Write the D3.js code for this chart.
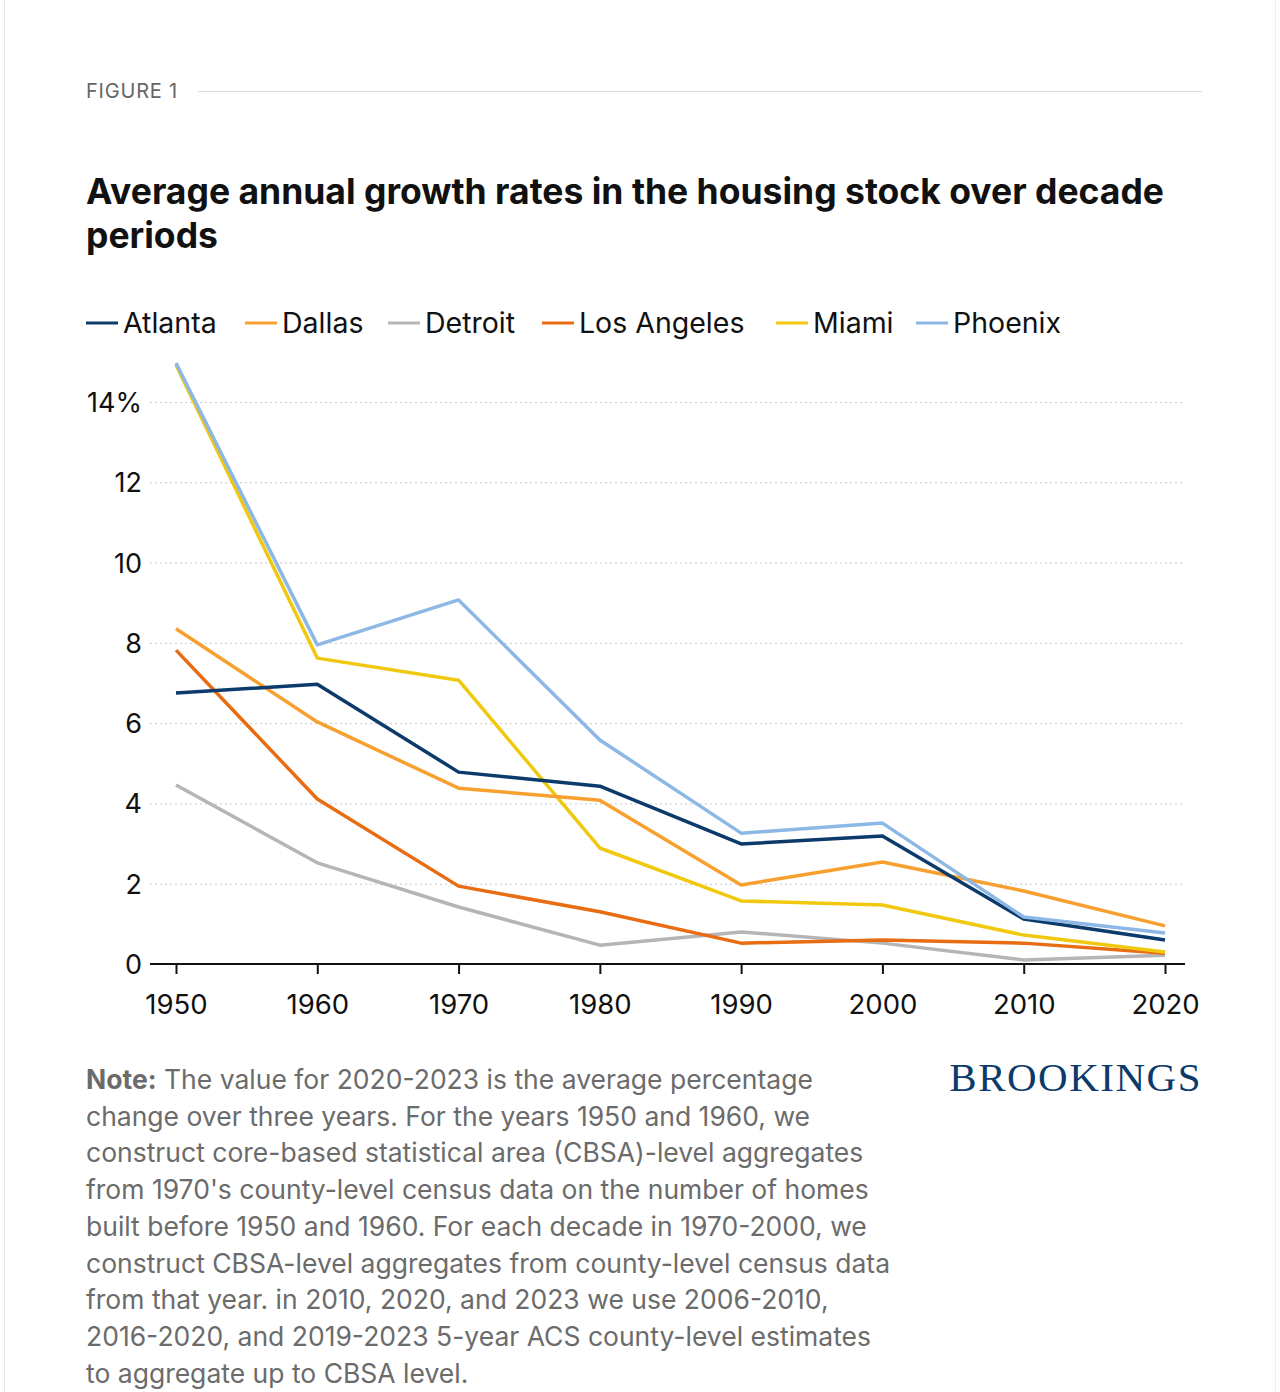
<!DOCTYPE html>
<html>
<head>
<meta charset="UTF-8">
<style>
  body { margin: 0; background: #fff; font-family: Inter, "Noto Sans", sans-serif; }
  svg { display: block; }
</style>
</head>
<body>
<svg></svg>
<script src="https://d3js.org/d3.v7.min.js"></script>
<script>
const years = [1950, 1960, 1970, 1980, 1990, 2000, 2010, 2020];
const cities = ["Atlanta", "Dallas", "Detroit", "Los Angeles", "Miami", "Phoenix"];
const colors = ["#0b3a6b", "#f7a030", "#b5b5b5", "#e86c12", "#f0c90f", "#8db7e4"];
const atlanta = [6.75, 6.97, 4.78, 4.43, 2.99, 3.19, 1.12, 0.6];
const dallas = [8.35, 6.03, 4.38, 4.08, 1.97, 2.54, 1.82, 0.95];
const detroit = [4.46, 2.52, 1.42, 0.47, 0.8, 0.52, 0.1, 0.22];
const losAngeles = [7.82, 4.11, 1.94, 1.3, 0.52, 0.6, 0.52, 0.27];
const miami = [14.92, 7.62, 7.07, 2.89, 1.57, 1.47, 0.72, 0.3];
const phoenix = [14.97, 7.95, 9.07, 5.58, 3.26, 3.51, 1.17, 0.77];
const yTicks = [0, 2, 4, 6, 8, 10, 12, 14];
const seriesValues = [atlanta, dallas, detroit, losAngeles, miami, phoenix];

const width = 1280, height = 1392;
const svg = d3.select("svg").attr("width", width).attr("height", height);

// card edges
svg.append("line").attr("x1", 4.5).attr("x2", 4.5).attr("y1", 0).attr("y2", height).attr("stroke", "#e6e6e6");
svg.append("line").attr("x1", 1275.5).attr("x2", 1275.5).attr("y1", 0).attr("y2", height).attr("stroke", "#eeeeee");

// header
svg.append("text").attr("x", 86).attr("y", 98).text("FIGURE 1")
  .attr("font-size", 20).attr("fill", "#666").attr("letter-spacing", 0.8);
svg.append("line").attr("x1", 198).attr("x2", 1202).attr("y1", 91.5).attr("y2", 91.5).attr("stroke", "#dcdcdc");

svg.append("text").attr("x", 86).attr("y", 204).text("Average annual growth rates in the housing stock over decade")
  .attr("font-size", 35.5).attr("font-weight", 700).attr("fill", "#111");
svg.append("text").attr("x", 86).attr("y", 248).text("periods")
  .attr("font-size", 35.5).attr("font-weight", 700).attr("fill", "#111");

// legend
const legendX = [86, 245, 388, 542, 776, 916];
cities.forEach((c, i) => {
  svg.append("line").attr("x1", legendX[i]).attr("x2", legendX[i] + 32).attr("y1", 323).attr("y2", 323)
    .attr("stroke", colors[i]).attr("stroke-width", 3);
  svg.append("text").attr("x", legendX[i] + 37).attr("y", 333).text(c)
    .attr("font-size", 28.5).attr("fill", "#111");
});

// scales
const x = d3.scaleLinear().domain([1950, 2020]).range([176, 1165]);
const y = d3.scaleLinear().domain([0, 14]).range([964, 402]);

// grid
svg.append("g").selectAll("line").data(yTicks.filter(d => d > 0)).join("line")
  .attr("x1", 150).attr("x2", 1185).attr("y1", d => y(d) + 0.5).attr("y2", d => y(d) + 0.5)
  .attr("stroke", "#c8c8c8").attr("stroke-dasharray", "2,3");

// y labels
svg.append("g").selectAll("text").data(yTicks).join("text")
  .attr("x", 142).attr("y", d => y(d) + 10).attr("text-anchor", "end")
  .attr("font-size", 27).attr("fill", "#111")
  .text(d => d === 14 ? "14%" : d);

// x axis
const xAxis = svg.append("g").attr("transform", "translate(0,964)")
  .call(d3.axisBottom(x).tickValues(years).tickFormat(d3.format("d")).tickSize(10).tickPadding(20));
xAxis.select(".domain").attr("d", "M150,0H1185").attr("stroke", "#111").attr("stroke-width", 2);
xAxis.selectAll(".tick line").attr("stroke", "#111").attr("stroke-width", 2);
xAxis.selectAll("text").attr("font-size", 27.5).attr("fill", "#111").attr("font-family", "Inter, sans-serif");

// lines
const line = d3.line().x((d, i) => x(years[i])).y(d => y(d));
const order = [2, 3, 4, 1, 0, 5];
order.forEach(i => {
  svg.append("path").datum(seriesValues[i]).attr("d", line)
    .attr("fill", "none").attr("stroke", colors[i]).attr("stroke-width", 3.5)
    .attr("stroke-linejoin", "round");
});

// note
const note = [
  ["Note:", " The value for 2020-2023 is the average percentage"],
  ["", "change over three years. For the years 1950 and 1960, we"],
  ["", "construct core-based statistical area (CBSA)-level aggregates"],
  ["", "from 1970's county-level census data on the number of homes"],
  ["", "built before 1950 and 1960. For each decade in 1970-2000, we"],
  ["", "construct CBSA-level aggregates from county-level census data"],
  ["", "from that year. in 2010, 2020, and 2023 we use 2006-2010,"],
  ["", "2016-2020, and 2019-2023 5-year ACS county-level estimates"],
  ["", "to aggregate up to CBSA level."]
];
note.forEach((n, i) => {
  const t = svg.append("text").attr("x", 86).attr("y", 1089 + i * 36.7)
    .attr("font-size", 26.5).attr("fill", "#6b6b6b");
  if (n[0]) t.append("tspan").attr("font-weight", 700).text(n[0]);
  t.append("tspan").text(n[1]);
});

svg.append("text").attr("x", 1202).attr("y", 1091).attr("text-anchor", "end")
  .text("BROOKINGS").attr("font-family", "'Liberation Serif', 'DejaVu Serif', serif")
  .attr("font-size", 41).attr("letter-spacing", 1.5).attr("fill", "#0b3a6b");
</script>
</body>
</html>
